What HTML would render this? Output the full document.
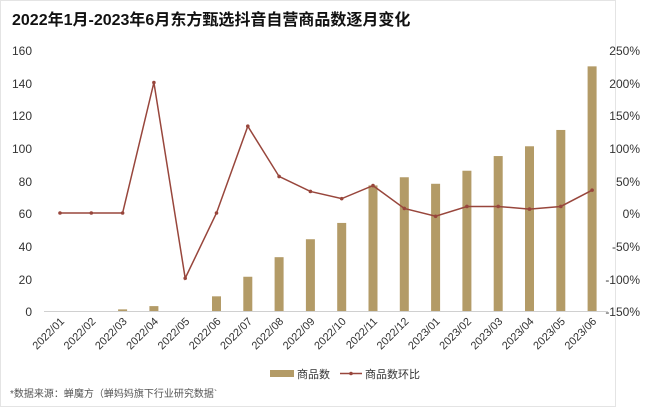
<!DOCTYPE html>
<html><head><meta charset="utf-8"><style>
body{margin:0;width:660px;height:408px;background:#fff;overflow:hidden;font-family:"Liberation Sans","Noto Sans CJK SC",sans-serif;}
</style></head><body>
<svg width="660" height="408" xmlns="http://www.w3.org/2000/svg" font-family="Liberation Sans, Noto Sans CJK SC, sans-serif">
<rect x="0.5" y="0.5" width="615" height="406" fill="none" stroke="#e4e4e4"/>
<text x="12" y="25" font-size="16" font-weight="bold" fill="#111">2022年1月-2023年6月东方甄选抖音自营商品数逐月变化</text>
<g font-size="12" fill="#333" text-anchor="end">
<text x="32" y="55">160</text><text x="32" y="88">140</text><text x="32" y="120">120</text><text x="32" y="153">100</text><text x="32" y="186">80</text><text x="32" y="218">60</text><text x="32" y="251">40</text><text x="32" y="284">20</text><text x="32" y="316">0</text>
</g>
<g font-size="12" fill="#333" text-anchor="end">
<text x="640" y="55">250%</text><text x="640" y="88">200%</text><text x="640" y="120">150%</text><text x="640" y="153">100%</text><text x="640" y="186">50%</text><text x="640" y="218">0%</text><text x="640" y="251">-50%</text><text x="640" y="284">-100%</text><text x="640" y="316">-150%</text>
</g>
<line x1="44" y1="311.5" x2="608" y2="311.5" stroke="#d0d0d0"/>
<g fill="#b39b67" id="bars"></g>
<polyline id="ln" fill="none" stroke="#98463c" stroke-width="1.5"/>
<g id="dots" fill="#98463c"></g>
<g id="xl" font-size="11" fill="#333"></g>
<rect x="270" y="370" width="24" height="7" fill="#b39b67"/>
<text x="297" y="378" font-size="11" fill="#333">商品数</text>
<line x1="340" y1="373.5" x2="362" y2="373.5" stroke="#98463c" stroke-width="1.5"/>
<circle cx="351" cy="373.5" r="1.8" fill="#98463c"/>
<text x="365" y="378" font-size="11" fill="#333">商品数环比</text>
<text x="10" y="397" font-size="10" fill="#555">*数据来源：蝉魔方（蝉妈妈旗下行业研究数据`</text>
</svg>
<script>
var v=[0,0,1,3,0,9,21,33,44,54,77,82,78,86,95,101,111,150];
var p=[0,0,0,200,-100,0,133,56,33,22,42,7,-5,10,10,6,10,35];
var lab=["2022/01","2022/02","2022/03","2022/04","2022/05","2022/06","2022/07","2022/08","2022/09","2022/10","2022/11","2022/12","2023/01","2023/02","2023/03","2023/04","2023/05","2023/06"];
var ns="http://www.w3.org/2000/svg",b=document.getElementById("bars"),d=document.getElementById("dots"),xl=document.getElementById("xl"),pts=[];
for(var i=0;i<18;i++){var x=60+i*31.3;var h=v[i]*1.631;
var r=document.createElementNS(ns,"rect");r.setAttribute("x",x-4.5);r.setAttribute("y",311-h);r.setAttribute("width",9);r.setAttribute("height",h);b.appendChild(r);
var y=213-p[i]*0.6525;pts.push(x+","+y);
var c=document.createElementNS(ns,"circle");c.setAttribute("cx",x);c.setAttribute("cy",y);c.setAttribute("r",1.8);d.appendChild(c);
var t=document.createElementNS(ns,"text");t.setAttribute("text-anchor","end");t.setAttribute("transform","translate("+(x+5)+",322) rotate(-45)");t.textContent=lab[i];xl.appendChild(t);}
document.getElementById("ln").setAttribute("points",pts.join(" "));
</script>
</body></html>
